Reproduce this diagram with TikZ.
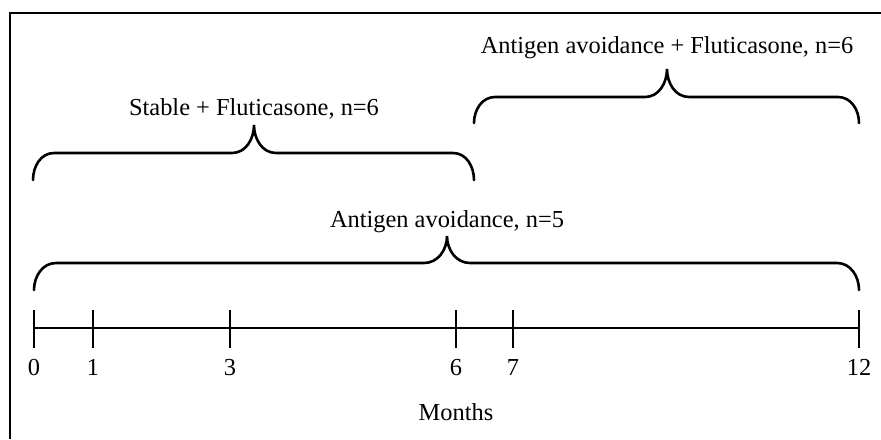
\documentclass[tikz,border=0pt]{standalone}
\usepackage{fontspec}
\setmainfont{Liberation Serif}
\usetikzlibrary{positioning}

\begin{document}
\begin{tikzpicture}[
  x=0.5pt, y=-0.5pt,
  %% ── outer frame ─────────────────────────────────────────────────────
  F/.style={line width=1.3pt, draw=black},
  %% ── curly bracket ───────────────────────────────────────────────────
  B/.style={line width=1.3pt, draw=black, line cap=round},
  %% ── time axis and ticks ─────────────────────────────────────────────
  T/.style={line width=1.0pt, draw=black},
  %% ── text label ──────────────────────────────────────────────────────
  L/.style={font=\fontsize{12.2}{14}\selectfont, inner sep=0pt, anchor=base},
]

\useasboundingbox (0,0) rectangle (881,439);

%% frame (open at right and bottom)
\draw[F] (10,439) |- (881,13);

%% ═══════════════════════════════════════════════════════════════════════
%%  TIME AXIS
%% ═══════════════════════════════════════════════════════════════════════

\coordinate (m0)  at (34,328);
\coordinate (m12) at (859,328);
\draw[T] (m0) -- (m12);

\foreach \x/\m in {34/0, 93/1, 230/3, 456/6, 513/7, 859/12} {
  \draw[T] (\x,310) -- (\x,348);
  \node[L] (lab\m) at (\x,375) {\m};
}

\node[L] (months) at (456,420) {Months};

%% ═══════════════════════════════════════════════════════════════════════
%%  BRACKETS
%% ═══════════════════════════════════════════════════════════════════════

%% Antigen avoidance (0 -> 12)
\draw[B] (34,290) to[out=90,in=180] (56,263) -- (424,263)
  to[out=0,in=-90] (447,236) to[out=-90,in=180] (470,263)
  -- (837,263) to[out=0,in=90] (859,290);
\node[L] (avoid) at (447,227) {Antigen avoidance, n=5};

%% Stable + Fluticasone (0 -> 6)
\draw[B] (33,180) to[out=90,in=180] (54,153) -- (232,153)
  to[out=0,in=-90] (254,125) to[out=-90,in=180] (276,153)
  -- (453,153) to[out=0,in=90] (474,180);
\node[L] (stable) at (254,115) {Stable + Fluticasone, n=6};

%% Antigen avoidance + Fluticasone (6 -> 12)
\draw[B] (474,123) to[out=90,in=180] (495,97) -- (645,97)
  to[out=0,in=-90] (667,69) to[out=-90,in=180] (689,97)
  -- (838,97) to[out=0,in=90] (859,123);
\node[L] (avoidflu) at (667,53) {Antigen avoidance + Fluticasone, n=6};

\end{tikzpicture}
\end{document}
